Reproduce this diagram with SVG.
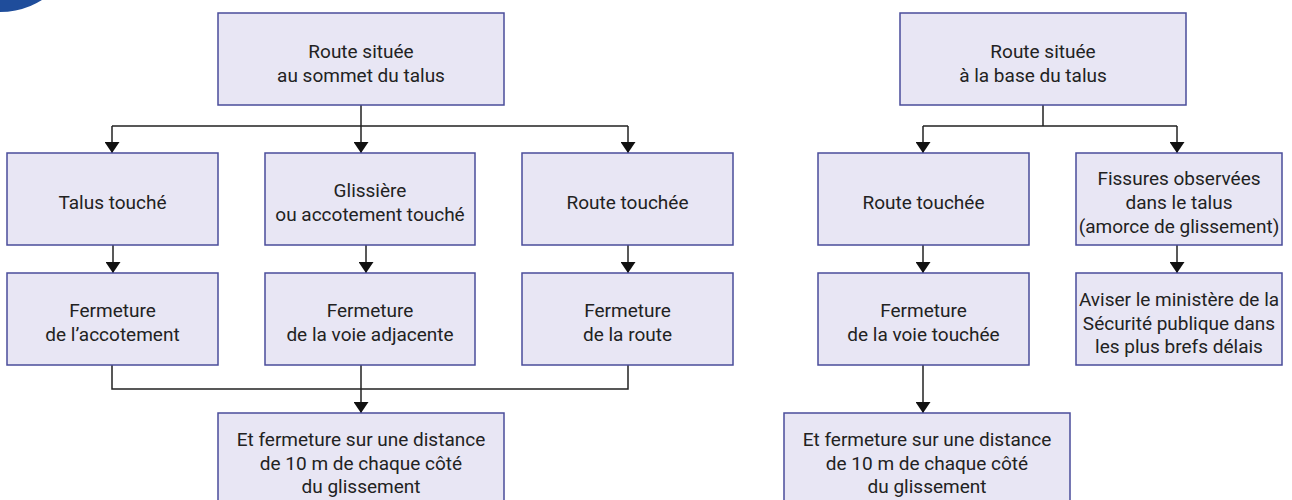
<svg xmlns="http://www.w3.org/2000/svg" width="1292" height="500" viewBox="0 0 1292 500">
<style>
.box{fill:#e8e6f4;stroke:#4a4c9a;stroke-width:1.5}
.t{font-family:Roboto,"Liberation Sans",sans-serif;font-size:19px;fill:#222;text-anchor:middle}
.c{fill:none;stroke:#222;stroke-width:1.5}
</style>
<defs>
<marker id="ah" viewBox="0 0 11 15" refX="11" refY="7.5" markerWidth="11" markerHeight="15" orient="auto" markerUnits="userSpaceOnUse">
<path d="M0,0 L11,7.5 L0,15 z" fill="#111"/>
</marker>
</defs>
<rect width="1292" height="500" fill="#fff"/>
<circle cx="0" cy="-67.5" r="79.5" fill="#1f4d9b"/>

<g id="connectors">
<path class="c" d="M361,105 V126 M112,126 H628"/>
<path class="c" d="M112,126 V153" marker-end="url(#ah)"/>
<path class="c" d="M361,126 V153" marker-end="url(#ah)"/>
<path class="c" d="M628,126 V153" marker-end="url(#ah)"/>
<path class="c" d="M113,245 V273" marker-end="url(#ah)"/>
<path class="c" d="M366,245 V273" marker-end="url(#ah)"/>
<path class="c" d="M628,245 V273" marker-end="url(#ah)"/>
<path class="c" d="M112,365 V389 H628 V365 M361,365 V389"/>
<path class="c" d="M361,389 V413" marker-end="url(#ah)"/>

<path class="c" d="M1043,105 V126 M923,126 H1177"/>
<path class="c" d="M923,126 V153" marker-end="url(#ah)"/>
<path class="c" d="M1177,126 V153" marker-end="url(#ah)"/>
<path class="c" d="M923,245 V273" marker-end="url(#ah)"/>
<path class="c" d="M1177,245 V273" marker-end="url(#ah)"/>
<path class="c" d="M923,365 V413" marker-end="url(#ah)"/>
</g>

<g id="n-sommet">
<rect class="box" x="218" y="13" width="286" height="92"/>
<text class="t" x="361" y="58">Route située</text>
<text class="t" x="361" y="82">au sommet du talus</text>
</g>
<g id="n-talus">
<rect class="box" x="7" y="153" width="211" height="92"/>
<text class="t" x="112.5" y="209">Talus touché</text>
</g>
<g id="n-glissiere">
<rect class="box" x="265" y="153" width="210" height="92"/>
<text class="t" x="370" y="197">Glissière</text>
<text class="t" x="370" y="221">ou accotement touché</text>
</g>
<g id="n-route1">
<rect class="box" x="522" y="153" width="211" height="92"/>
<text class="t" x="627.5" y="209">Route touchée</text>
</g>
<g id="n-ferm-acc">
<rect class="box" x="7" y="273" width="211" height="92"/>
<text class="t" x="112.5" y="317">Fermeture</text>
<text class="t" x="112.5" y="341">de l’accotement</text>
</g>
<g id="n-ferm-voie-adj">
<rect class="box" x="265" y="273" width="210" height="92"/>
<text class="t" x="370" y="317">Fermeture</text>
<text class="t" x="370" y="341">de la voie adjacente</text>
</g>
<g id="n-ferm-route">
<rect class="box" x="522" y="273" width="211" height="92"/>
<text class="t" x="627.5" y="317">Fermeture</text>
<text class="t" x="627.5" y="341">de la route</text>
</g>
<g id="n-dist1">
<rect class="box" x="218" y="413" width="286" height="92"/>
<text class="t" x="361" y="446">Et fermeture sur une distance</text>
<text class="t" x="361" y="470">de 10 m de chaque côté</text>
<text class="t" x="361" y="493">du glissement</text>
</g>

<g id="n-base">
<rect class="box" x="900" y="13" width="286" height="92"/>
<text class="t" x="1043" y="58">Route située</text>
<text class="t" x="1033" y="82">à la base du talus</text>
</g>
<g id="n-route2">
<rect class="box" x="818" y="153" width="211" height="92"/>
<text class="t" x="923.5" y="209">Route touchée</text>
</g>
<g id="n-fissures">
<rect class="box" x="1076" y="153" width="206" height="92"/>
<text class="t" x="1179" y="185">Fissures observées</text>
<text class="t" x="1179" y="209">dans le talus</text>
<text class="t" x="1179" y="233">(amorce de glissement)</text>
</g>
<g id="n-ferm-voie-touchee">
<rect class="box" x="818" y="273" width="211" height="92"/>
<text class="t" x="923.5" y="317">Fermeture</text>
<text class="t" x="923.5" y="341">de la voie touchée</text>
</g>
<g id="n-aviser">
<rect class="box" x="1076" y="273" width="206" height="92"/>
<text class="t" x="1179" y="306">Aviser le ministère de la</text>
<text class="t" x="1179" y="329.5">Sécurité publique dans</text>
<text class="t" x="1179" y="353">les plus brefs délais</text>
</g>
<g id="n-dist2">
<rect class="box" x="784" y="413" width="286" height="92"/>
<text class="t" x="927" y="446">Et fermeture sur une distance</text>
<text class="t" x="927" y="470">de 10 m de chaque côté</text>
<text class="t" x="927" y="493">du glissement</text>
</g>
</svg>
